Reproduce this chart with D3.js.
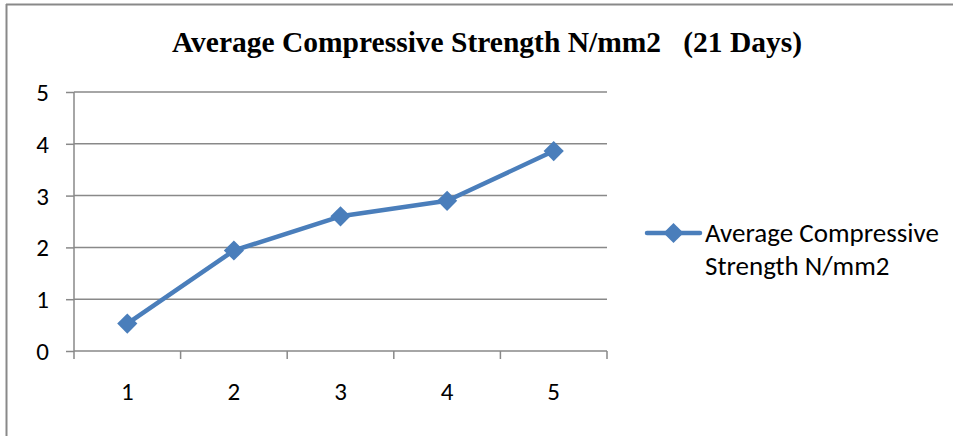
<!DOCTYPE html>
<html><head><meta charset="utf-8">
<script src="https://cdn.jsdelivr.net/npm/d3@7"></script>
<style>body{margin:0;background:#fff}svg{display:block}</style>
</head><body>
<svg id="c" width="953" height="436"></svg>
<script>
const categories = ["1","2","3","4","5"];
const values = [0.53, 1.94, 2.6, 2.9, 3.86];
const yTicks = [0,1,2,3,4,5];
const titleText = "Average Compressive Strength N/mm2\u00a0\u00a0\u00a0(21 Days)";
const legendLines = ["Average Compressive", "Strength N/mm2"];

const svg = d3.select("#c");
const lineColor = "#4a7ebb", grid = "#898989";
const font = "Carlito, 'Open Sans', 'Noto Sans', sans-serif";

// outer border
svg.append("line").attr("x1",6.5).attr("x2",6.5).attr("y1",4).attr("y2",436).attr("stroke",grid).attr("stroke-width",2);
svg.append("line").attr("x1",6).attr("x2",953).attr("y1",4.5).attr("y2",4.5).attr("stroke",grid).attr("stroke-width",2);

svg.append("text").attr("x",487).attr("y",52).attr("text-anchor","middle")
  .style("font-family","'Liberation Serif','Times New Roman',serif").style("font-weight","bold")
  .style("font-size","29.5px").attr("fill","#000").text(titleText);

const L=74, R=607, T=92, B=351;
const x = d3.scaleBand().domain(categories).range([L,R]);
const y = d3.scaleLinear().domain([0,5]).range([B,T]);

// gridlines
svg.append("g").selectAll("line").data(yTicks.filter(d=>d>0)).join("line")
  .attr("x1",L).attr("x2",R).attr("y1",d=>y(d)).attr("y2",d=>y(d))
  .attr("stroke",grid).attr("stroke-width",1.5);

// y axis
const yAxis = svg.append("g").attr("transform",`translate(${L},0)`)
  .call(d3.axisLeft(y).tickValues(yTicks).tickSize(8).tickPadding(17).tickFormat(d3.format("d")));
yAxis.attr("font-size",null).attr("font-family",null);
yAxis.select(".domain").attr("stroke",grid).attr("stroke-width",1.5).attr("d",`M0,${T}V${B}`);
yAxis.selectAll(".tick line").attr("stroke",grid).attr("stroke-width",1.5);
yAxis.selectAll(".tick text").style("font-family",font).style("font-size","25px").attr("dy","0.34em").attr("fill","#000");

// x axis
const xAxis = svg.append("g").attr("transform",`translate(0,${B})`)
  .call(d3.axisBottom(x).tickSize(0));
xAxis.attr("font-size",null).attr("font-family",null);
xAxis.select(".domain").attr("stroke",grid).attr("stroke-width",1.5).attr("d",`M${L},0H${R}`);
xAxis.selectAll(".tick text").attr("y",49).attr("dy",0).style("font-family",font).style("font-size","25px").attr("fill","#000");
const bounds = [...categories.map(c=>x(c)), R];
xAxis.append("g").selectAll("line").data(bounds).join("line")
  .attr("x1",d=>d).attr("x2",d=>d).attr("y1",0).attr("y2",8)
  .attr("stroke",grid).attr("stroke-width",1.5);

// series
const cx = c => x(c) + x.bandwidth()/2;
const line = d3.line().x((d,i)=>cx(categories[i])).y(d=>y(d));
svg.append("path").datum(values).attr("d",line).attr("fill","none")
  .attr("stroke",lineColor).attr("stroke-width",4.5).attr("stroke-linejoin","round");
const diamond = d3.symbol().type(d3.symbolDiamond2).size(260);
svg.append("g").selectAll("path").data(values).join("path")
  .attr("transform",(d,i)=>`translate(${cx(categories[i])},${y(d)})`)
  .attr("d",diamond).attr("fill",lineColor);

// legend
const lg = svg.append("g");
lg.append("line").attr("x1",647).attr("x2",700).attr("y1",233).attr("y2",233)
  .attr("stroke",lineColor).attr("stroke-width",4.5).attr("stroke-linecap","round");
lg.append("path").attr("transform","translate(673.5,233)").attr("d",diamond).attr("fill",lineColor);
lg.selectAll("text").data(legendLines).join("text")
  .attr("x",705).attr("y",(d,i)=>242+i*32.5)
  .style("font-family",font).style("font-size","27px").attr("fill","#000").text(d=>d);
</script>
</body></html>
